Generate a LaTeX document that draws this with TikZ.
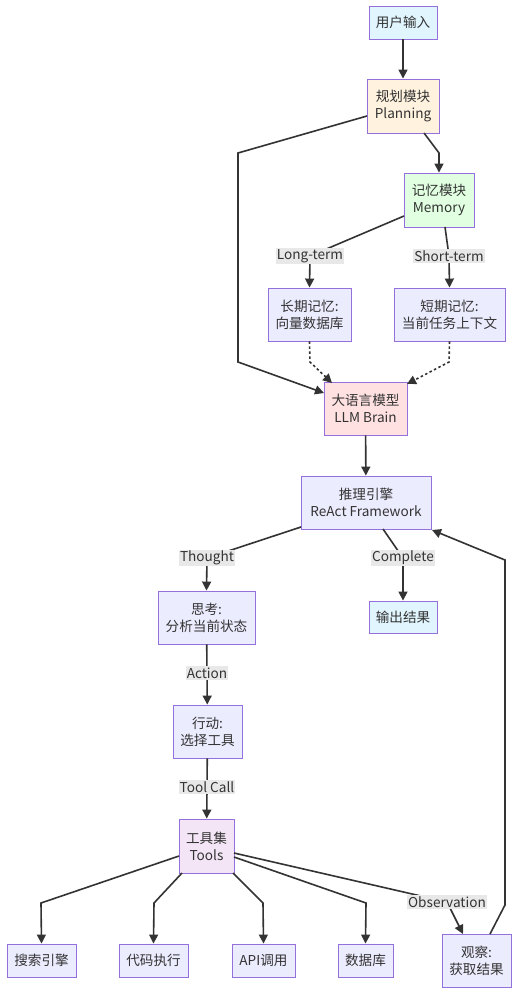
\documentclass[tikz,border=0pt]{standalone}
\usepackage{fontspec}
\setmainfont{Noto Sans CJK SC}
\usetikzlibrary{arrows.meta}
\definecolor{bord}{HTML}{9370DB}
\definecolor{txt}{HTML}{333333}
\definecolor{edge}{HTML}{333333}
\definecolor{cblue}{HTML}{E1F5FE}
\definecolor{corange}{HTML}{FFF3E0}
\definecolor{cgreen}{HTML}{E1FFE1}
\definecolor{cpink}{HTML}{FFE1E1}
\definecolor{cpurple}{HTML}{F3E5F5}
\definecolor{cdef}{HTML}{ECECFF}
\definecolor{lblbg}{HTML}{E8E8E8}
\begin{document}
\begin{tikzpicture}[x=1bp,y=-1bp,
  box/.style={draw=bord,line width=0.9bp,fill=cdef,text=txt,align=center,inner sep=0pt,
    font=\fontsize{13.6bp}{17bp}\selectfont},
  lbl/.style={fill=lblbg,text=txt,inner sep=1.2bp,font=\fontsize{13.6bp}{15bp}\selectfont},
  conn/.style={draw=edge,line width=1.6bp,-{Triangle[length=9bp,width=9bp]}},
  dotconn/.style={conn,dash pattern=on 2.5bp off 2.5bp}]
\useasboundingbox (0,0) rectangle (518,995);
\fill[white] (0,0) rectangle (518,995);
% nodes
\node[box,fill=cblue,minimum width=68bp,minimum height=33bp] (input) at (403,22.5) {用户输入};
\node[box,fill=corange,minimum width=72bp,minimum height=54bp] (plan) at (403,106) {规划模块\\Planning};
\node[box,fill=cgreen,minimum width=70bp,minimum height=54bp] (mem) at (439,200) {记忆模块\\Memory};
\node[box,minimum width=83bp,minimum height=53bp] (lt) at (309.5,314.5) {长期记忆:\\向量数据库};
\node[box,minimum width=111bp,minimum height=53bp] (st) at (449.5,314.5) {短期记忆:\\当前任务上下文};
\node[box,fill=cpink,minimum width=83bp,minimum height=53bp] (llm) at (365.5,408.5) {大语言模型\\LLM Brain};
\node[box,minimum width=130bp,minimum height=53bp] (react) at (366,502.5) {推理引擎\\ReAct Framework};
\node[box,fill=cblue,minimum width=68bp,minimum height=32bp] (out) at (403,617) {输出结果};
\node[box,minimum width=97bp,minimum height=53bp] (think) at (206.5,617.5) {思考:\\分析当前状态};
\node[box,minimum width=69bp,minimum height=53bp] (act) at (207.5,731.5) {行动:\\选择工具};
\node[box,fill=cpurple,minimum width=55bp,minimum height=54bp] (tools) at (206.5,846) {工具集\\Tools};
\node[box,minimum width=69bp,minimum height=33bp] (search) at (41.5,960.5) {搜索引擎};
\node[box,minimum width=69bp,minimum height=33bp] (code) at (153.5,960.5) {代码执行};
\node[box,minimum width=63bp,minimum height=33bp] (api) at (263.5,960.5) {API调用};
\node[box,minimum width=55bp,minimum height=33bp] (db) at (365.5,960.5) {数据库};
\node[box,minimum width=69bp,minimum height=53bp] (obs) at (476.5,960.5) {观察:\\获取结果};
% bend coordinates
\coordinate (pm) at (439,153);
\coordinate (pl1) at (238,153);
\coordinate (pl2) at (238,362);
\coordinate (ltc) at (310,256);
\coordinate (stc) at (449,256);
\coordinate (ltd) at (310,362);
\coordinate (std) at (449,362);
\coordinate (thc) at (207,558);
\coordinate (coc) at (403,558);
\coordinate (sc) at (41,903);
\coordinate (cc) at (154,903);
\coordinate (ac) at (263,903);
\coordinate (dc) at (366,903);
\coordinate (oc) at (447,902);
\coordinate (ob1) at (505,905);
\coordinate (ob2) at (505,560);
% edges
\draw[conn] (input) -- (plan);
\draw[conn] (424,133) -- (pm) -- (mem.north);
\draw[conn] (367,116) -- (pl1) -- (pl2) -- (324,393);
\draw[conn] (404,216) -- (ltc) -- (lt.north);
\draw[conn] (445,227) -- (stc) -- (st.north);
\draw[dotconn] (lt.south) -- (ltd) -- (332,383);
\draw[dotconn] (st.south) -- (std) -- (407,384);
\draw[conn] (llm) -- (react);
\draw[conn] (301,527) -- (thc) -- (think.north);
\draw[conn] (383,529) -- (coc) -- (out.north);
\draw[conn] (think) -- (act);
\draw[conn] (act) -- (tools);
\draw[conn] (179,856) -- (sc) -- (search.north);
\draw[conn] (182,873) -- (cc) -- (code.north);
\draw[conn] (233,873) -- (ac) -- (api.north);
\draw[conn] (234,857) -- (dc) -- (db.north);
\draw[conn] (234,853) -- (oc) -- (463,934);
\draw[conn] (490,934) -- (ob1) -- (ob2) -- (432,530);
% edge labels
\node[lbl] (l1) at (ltc) {Long-term};
\node[lbl] (l2) at (stc) {Short-term};
\node[lbl] (l3) at (thc) {Thought};
\node[lbl] (l4) at (coc) {Complete};
\node[lbl] (l5) at (207,673) {Action};
\node[lbl] (l6) at (207,787) {Tool Call};
\node[lbl] (l7) at (oc) {Observation};
\end{tikzpicture}
\end{document}
